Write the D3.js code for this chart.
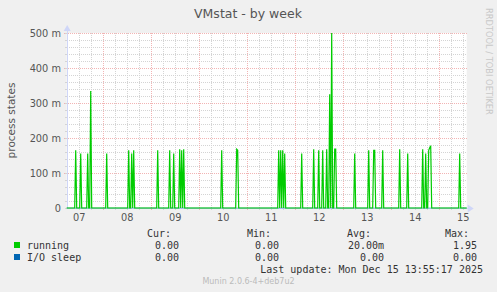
<!DOCTYPE html>
<html>
<head>
<meta charset="utf-8">
<script src="https://cdn.jsdelivr.net/npm/d3@7"></script>
<style>
  body { margin: 0; background: #f0f0f0; }
  text { font-family: "DejaVu Sans", sans-serif; }
  .mono { font-family: "DejaVu Sans Mono", monospace; font-size: 10px; fill: #333; }
</style>
</head>
<body>
<div id="chart"></div>
<script>
var width = 497,
  height = 292,
  plotLeft = 66.7,
  plotRight = 466.7,
  plotTop = 33,
  plotBottom = 208;

// graph window (30 min per point)
var startTime = new Date(Date.UTC(2025, 11, 6, 18, 0)),
  endTime = new Date(Date.UTC(2025, 11, 15, 2, 0));

// running processes: non-zero half-hour samples (rest are 0)
var runTimes = ["12-06 22:30", "12-07 01:00", "12-07 04:30", "12-07 06:00", "12-07 14:00",
  "12-08 01:00", "12-08 02:30", "12-08 03:30", "12-08 15:30", "12-08 21:30", "12-08 23:30",
  "12-09 02:30", "12-09 03:30", "12-09 04:30", "12-09 23:30", "12-10 07:00", "12-10 07:30",
  "12-11 04:00", "12-11 05:00", "12-11 06:00", "12-11 07:00", "12-11 15:30", "12-11 21:30",
  "12-12 00:00", "12-12 02:00", "12-12 04:00", "12-12 05:30", "12-12 06:30", "12-12 08:00",
  "12-12 08:30", "12-12 18:00", "12-13 01:00", "12-13 03:30", "12-13 04:00", "12-13 08:00",
  "12-13 16:30", "12-13 20:30", "12-14 04:00", "12-14 05:30", "12-14 07:00", "12-14 07:30",
  "12-14 08:00", "12-14 22:30"]
var runValues = [0.165, 0.156, 0.156, 0.334, 0.156,
  0.165, 0.156, 0.165, 0.165, 0.165, 0.156,
  0.168, 0.165, 0.168, 0.165, 0.168, 0.165,
  0.165, 0.165, 0.165, 0.156, 0.156, 0.168,
  0.165, 0.165, 0.168, 0.325, 0.500, 0.168,
  0.168, 0.156, 0.165, 0.165, 0.165, 0.165,
  0.168, 0.156, 0.168, 0.156, 0.165, 0.172,
  0.178, 0.156]

var legendNames = ["running", "I/O sleep"]
var legendColors = ["#00cc00", "#0066b3"]
var legendHeads = ["Cur:", "Min:", "Avg:", "Max:"]
var legendStats = [
  ["0.00", "0.00", "20.00m", "1.95"],
  ["0.00", "0.00", "0.00", "0.00"]
]
var yTicks = [0, 0.1, 0.2, 0.3, 0.4, 0.5]

var parseTime = d3.utcParse("%Y-%m-%d %H:%M")
var runMap = {}
runTimes.forEach(function (t, i) {
  runMap[+parseTime("2025-" + t)] = runValues[i]
})

var samples = d3.utcMinute.every(30).range(startTime, d3.utcMinute.offset(endTime, 1))
var running = samples.map(function (t) {
  return { t: t, v: runMap[+t] || 0 }
})
var ioSleep = samples.map(function (t) { return { t: t, v: 0 } })

var x = d3.scaleUtc()
  .domain([startTime, endTime])
  .range([plotLeft, plotRight])

var y = d3.scaleLinear()
  .domain([0, 0.5])
  .range([plotBottom, plotTop])

var svg = d3.select("#chart").append("svg")
  .attr("width", width)
  .attr("height", height)

svg.append("rect")
  .attr("width", width)
  .attr("height", height)
  .attr("fill", "#f0f0f0")

svg.append("rect")
  .attr("x", plotLeft)
  .attr("y", plotTop)
  .attr("width", plotRight - plotLeft)
  .attr("height", plotBottom - plotTop)
  .attr("fill", "#ffffff")

var grid = svg.append("g").attr("shape-rendering", "crispEdges")
var minorColor = "#d4d4d4",
  majorColor = "#f2b4b4"

// minor horizontal grid every 20m
grid.selectAll("line.hmin")
  .data(d3.range(1, 25).filter(function (i) { return i % 5 != 0 }).map(function (i) { return i * 0.02 }))
  .enter().append("line")
    .attr("x1", plotLeft).attr("x2", plotRight)
    .attr("y1", function (d) { return Math.round(y(d)) + 0.5 })
    .attr("y2", function (d) { return Math.round(y(d)) + 0.5 })
    .attr("stroke", minorColor)
    .attr("stroke-dasharray", "1,1")

// minor vertical grid every 6 hours
var sixHours = d3.utcHour.every(6).range(startTime, endTime).filter(function (t) { return t.getUTCHours() != 12 && +t > +startTime })
grid.selectAll("line.vmin")
  .data(sixHours)
  .enter().append("line")
    .attr("x1", function (d) { return Math.round(x(d)) + 0.5 })
    .attr("x2", function (d) { return Math.round(x(d)) + 0.5 })
    .attr("y1", plotTop).attr("y2", plotBottom + 2)
    .attr("stroke", minorColor)
    .attr("stroke-dasharray", "1,1")

// major grid
var noons = d3.utcHour.every(6).range(startTime, endTime).filter(function (t) { return t.getUTCHours() == 12 })
grid.selectAll("line.vmaj")
  .data(noons)
  .enter().append("line")
    .attr("x1", function (d) { return Math.round(x(d)) + 0.5 })
    .attr("x2", function (d) { return Math.round(x(d)) + 0.5 })
    .attr("y1", plotTop).attr("y2", plotBottom + 3)
    .attr("stroke", majorColor)
    .attr("stroke-dasharray", "1,1")

grid.selectAll("line.hmaj")
  .data(yTicks.slice(1))
  .enter().append("line")
    .attr("x1", plotLeft - 3).attr("x2", plotRight)
    .attr("y1", function (d) { return Math.round(y(d)) + 0.5 })
    .attr("y2", function (d) { return Math.round(y(d)) + 0.5 })
    .attr("stroke", majorColor)
    .attr("stroke-dasharray", "1,1")

// y tick marks
grid.selectAll("line.ytick")
  .data(d3.range(0, 26).map(function (i) { return i * 0.02 }))
  .enter().append("line")
    .attr("x1", plotLeft - 2).attr("x2", plotLeft)
    .attr("y1", function (d) { return Math.round(y(d)) + 0.5 })
    .attr("y2", function (d) { return Math.round(y(d)) + 0.5 })
    .attr("stroke", minorColor)

// axes
svg.append("line")
  .attr("x1", Math.round(plotLeft) + 0.5).attr("x2", Math.round(plotLeft) + 0.5)
  .attr("y1", plotTop - 3).attr("y2", plotBottom)
  .attr("stroke", "#cfd6f8")
svg.append("path")
  .attr("d", "M" + (plotLeft - 3) + "," + (plotTop - 2) + "L" + (plotLeft + 0.5) + "," + (plotTop - 8) + "L" + (plotLeft + 4) + "," + (plotTop - 2) + "Z")
  .attr("fill", "#cfd6f8")
svg.append("path")
  .attr("d", "M" + (plotRight + 1) + "," + (plotBottom - 3.5) + "L" + (plotRight + 7) + "," + (plotBottom + 0.5) + "L" + (plotRight + 1) + "," + (plotBottom + 4.5) + "Z")
  .attr("fill", "#cfd6f8")
svg.append("line")
  .attr("x1", plotLeft).attr("x2", plotRight + 2)
  .attr("y1", plotBottom + 0.5).attr("y2", plotBottom + 0.5)
  .attr("stroke", "#cfd6f8")

// series
var line = d3.line()
  .x(function (d) { return x(d.t) })
  .y(function (d) { return y(d.v) })

svg.append("path")
  .datum(ioSleep)
  .attr("d", line)
  .attr("fill", "none")
  .attr("stroke", legendColors[1])
  .attr("stroke-opacity", 0.45)
  .attr("stroke-width", 1)

svg.append("path")
  .datum(running)
  .attr("d", line)
  .attr("fill", "none")
  .attr("stroke", legendColors[0])
  .attr("stroke-width", 1.2)

// y labels
svg.append("g").selectAll("text")
  .data(yTicks)
  .enter().append("text")
    .attr("x", 61)
    .attr("y", function (d) { return y(d) + 3.5 })
    .attr("text-anchor", "end")
    .attr("font-size", "9.8px")
    .attr("fill", "#555")
    .text(function (d) { return d === 0 ? "0" : Math.round(d * 1000) + " m" })

// x labels at midnight
var days = d3.utcDay.range(startTime, endTime)
svg.append("g").selectAll("text")
  .data(days)
  .enter().append("text")
    .attr("x", function (d) { return x(d) + 0.5 })
    .attr("y", 220.5)
    .attr("text-anchor", "middle")
    .attr("font-size", "9.8px")
    .attr("fill", "#555")
    .text(d3.utcFormat("%d"))

svg.append("text")
  .attr("x", 248)
  .attr("y", 18)
  .attr("text-anchor", "middle")
  .attr("font-size", "12.5px")
  .attr("fill", "#555")
  .text("VMstat - by week")

svg.append("text")
  .attr("transform", "translate(15,120.5) rotate(-90)")
  .attr("text-anchor", "middle")
  .attr("font-size", "10.5px")
  .attr("fill", "#555")
  .text("process states")

svg.append("text")
  .attr("transform", "translate(486,8) rotate(90)")
  .attr("font-size", "8.3px")
  .attr("fill", "#c8c8c8")
  .text("RRDTOOL / TOBI OETIKER")

// legend
var headX = [171, 271, 371, 469]
var statX = [179, 279, 384, 477]
svg.append("g").selectAll("text")
  .data(legendHeads)
  .enter().append("text")
    .attr("class", "mono")
    .attr("x", function (d, i) { return headX[i] })
    .attr("y", 237.2)
    .attr("text-anchor", "end")
    .text(function (d) { return d })

legendNames.forEach(function (name, r) {
  var yy = 249 + r * 12
  svg.append("rect")
    .attr("x", 14)
    .attr("y", yy - 7)
    .attr("width", 6)
    .attr("height", 6)
    .attr("fill", legendColors[r])
  svg.append("text")
    .attr("class", "mono")
    .attr("x", 27)
    .attr("y", yy)
    .text(name)
  svg.append("g").selectAll("text")
    .data(legendStats[r])
    .enter().append("text")
      .attr("class", "mono")
      .attr("x", function (d, i) { return statX[i] })
      .attr("y", yy)
      .attr("text-anchor", "end")
      .text(function (d) { return d })
})

svg.append("text")
  .attr("class", "mono")
  .attr("x", 483)
  .attr("y", 273)
  .attr("text-anchor", "end")
  .text("Last update:  Mon Dec 15 13:55:17 2025")

svg.append("text")
  .attr("x", 248.5)
  .attr("y", 284)
  .attr("text-anchor", "middle")
  .attr("font-size", "8px")
  .attr("fill", "#bbbbbb")
  .text("Munin 2.0.6-4+deb7u2")
</script>
</body>
</html>
